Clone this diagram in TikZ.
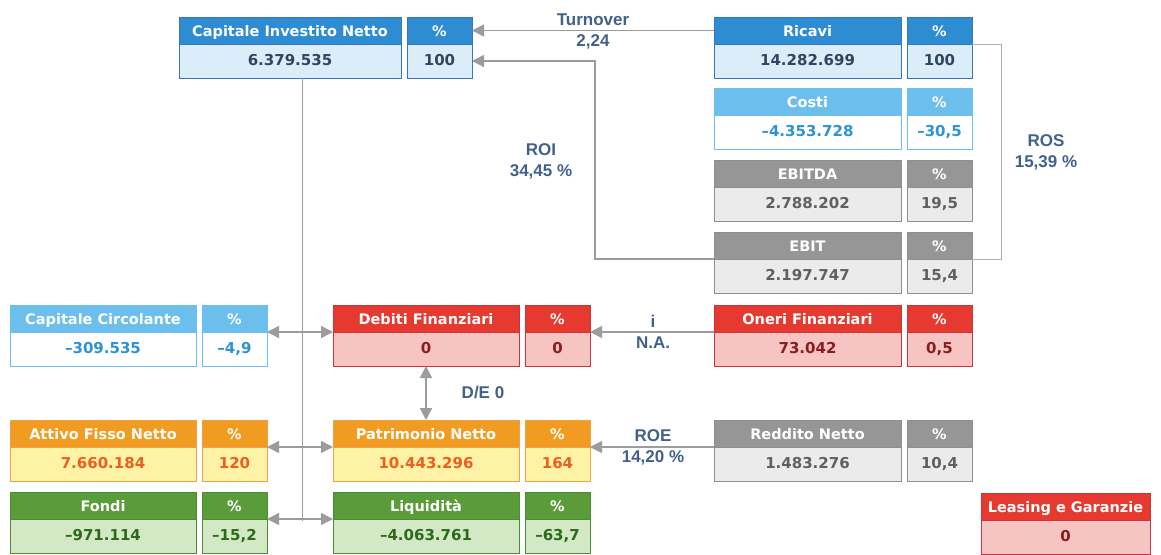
\documentclass[tikz,border=0pt]{standalone}
\usepackage{fontspec}
\setmainfont{DejaVu Sans}
\newfontfamily\etifont{Liberation Sans}
\usepackage{tikz}
\usetikzlibrary{arrows.meta,positioning}

\definecolor{bluH}{HTML}{2D8CD2}
\definecolor{bluF}{HTML}{DCEDFA}
\definecolor{bluB}{HTML}{3A78B5}
\definecolor{bluT}{HTML}{2F4660}
\definecolor{celesteH}{HTML}{6CBFEC}
\definecolor{celesteF}{HTML}{FFFFFF}
\definecolor{celesteB}{HTML}{6CBFEC}
\definecolor{celesteT}{HTML}{2E93D3}
\definecolor{grigioH}{HTML}{969696}
\definecolor{grigioF}{HTML}{EBEBEB}
\definecolor{grigioB}{HTML}{8E8E8E}
\definecolor{grigioT}{HTML}{606060}
\definecolor{rossoH}{HTML}{E6392F}
\definecolor{rossoF}{HTML}{F7C4C4}
\definecolor{rossoB}{HTML}{C7363A}
\definecolor{rossoT}{HTML}{8B1C1C}
\definecolor{aranciaH}{HTML}{F29B21}
\definecolor{aranciaF}{HTML}{FEF2A6}
\definecolor{aranciaB}{HTML}{F0A048}
\definecolor{aranciaT}{HTML}{EC5F1F}
\definecolor{verdeH}{HTML}{5B9C3A}
\definecolor{verdeF}{HTML}{D3E8C5}
\definecolor{verdeB}{HTML}{4D8C36}
\definecolor{verdeT}{HTML}{2B6A1A}
\definecolor{etic}{HTML}{41618C}
\definecolor{linea}{HTML}{9C9C9C}

\tikzset{
  testa/.style={draw=#1B, fill=#1H, text=white, line width=1pt,
    font=\bfseries\fontsize{14.5}{17}\selectfont, minimum height=27pt,
    inner sep=0pt, outer sep=0pt, text height=14.5pt, text depth=2pt},
  corpo/.style={draw=#1B, fill=#1F, text=#1T, line width=1pt,
    font=\bfseries\fontsize{15}{18}\selectfont, minimum height=34pt,
    inner sep=0pt, outer sep=0pt, text height=11.5pt, text depth=2.5pt},
  freccia/.style={draw=linea, line width=1.4pt, -{Triangle[length=12pt,width=12pt]}},
  freccia2/.style={draw=linea, line width=1.4pt, {Triangle[length=12pt,width=12pt]}-{Triangle[length=12pt,width=12pt]}},
  filo/.style={draw=linea!80, line width=1pt},
  etichetta/.style={text=etic, align=center, inner sep=0pt,
    font=\etifont\bfseries\fontsize{17}{21}\selectfont}
}

% nome, colore, x, y, larghezza, titolo, valore, percentuale
\newcommand{\voce}[8]{%
  \node[testa=#2, minimum width=#5pt, anchor=north west] (#1T) at (#3,#4) {#6};
  \node[corpo=#2, minimum width=#5pt, below=0pt of #1T] (#1W) {#7};
  \node[testa=#2, minimum width=65pt, right=6pt of #1T] (#1PT) {\%};
  \node[corpo=#2, minimum width=65pt, below=0pt of #1PT] (#1PW) {#8};
}

\begin{document}
\begin{tikzpicture}[x=1pt,y=-1pt]
  \useasboundingbox[fill=white] (0,0) rectangle (1161,554);

  \voce{CIN}{blu}{179}{17}{222}{Capitale Investito Netto}{6.379.535}{100}
  \voce{Ricavi}{blu}{714}{17}{187}{Ricavi}{14.282.699}{100}
  \voce{Costi}{celeste}{714}{88}{187}{Costi}{–4.353.728}{–30,5}
  \voce{Ebitda}{grigio}{714}{160}{187}{EBITDA}{2.788.202}{19,5}
  \voce{Ebit}{grigio}{714}{232}{187}{EBIT}{2.197.747}{15,4}
  \voce{Circolante}{celeste}{10}{305}{186}{Capitale Circolante}{–309.535}{–4,9}
  \voce{Debiti}{rosso}{333}{305}{186}{Debiti Finanziari}{0}{0}
  \voce{Oneri}{rosso}{714}{305}{187}{Oneri Finanziari}{73.042}{0,5}
  \voce{Attivo}{arancia}{10}{420}{186}{Attivo Fisso Netto}{7.660.184}{120}
  \voce{Patrimonio}{arancia}{333}{420}{186}{Patrimonio Netto}{10.443.296}{164}
  \voce{Reddito}{grigio}{714}{420}{187}{Reddito Netto}{1.483.276}{10,4}
  \voce{Fondi}{verde}{10}{492}{186}{Fondi}{–971.114}{–15,2}
  \voce{Liquidita}{verde}{333}{492}{186}{Liquidità}{–4.063.761}{–63,7}

  \node[testa=rosso, minimum width=169pt, anchor=north west] (LeasingT) at (981,493) {Leasing e Garanzie};
  \node[corpo=rosso, minimum width=169pt, below=0pt of LeasingT] (LeasingW) {0};

  \coordinate (Snodo) at (302,521);

  \draw[filo, draw=linea] (CINW.south -| Snodo) -- (Snodo);
  \draw[freccia2] (CircolantePW.north east) -- (DebitiW.north west);
  \draw[freccia2] (AttivoPW.north east) -- (PatrimonioW.north west);
  \draw[freccia2] (FondiPW.north east) -- (LiquiditaW.north west);
  \draw[freccia2] (DebitiW.south) -- (PatrimonioT.north);
  \draw[freccia] (OneriT.south west) -- (DebitiPW.north east);
  \draw[freccia] (RedditoT.south west) -- (PatrimonioPW.north east);
  \draw[freccia] (RicaviT.west) -- (CINPT.east);
  \draw[freccia] (EbitT.south west) -- ++(-119,0) |- (CINPW.east);
  \draw[filo] (RicaviPT.south east) -- ++(29,0) |- (EbitPT.south east);

  \node[etichetta] (Turnover) at (593,31) {Turnover\\2,24};
  \node[etichetta] (ROI) at (541,161) {ROI\\34,45 \%};
  \node[etichetta] (ROS) at (1046,152) {ROS\\15,39 \%};
  \node[etichetta] (Interessi) at (653,332) {i\\N.A.};
  \node[etichetta] (ROE) at (653,447) {ROE\\14,20 \%};
  \node[etichetta] (DE) at (483,393) {D/E 0};
\end{tikzpicture}
\end{document}
